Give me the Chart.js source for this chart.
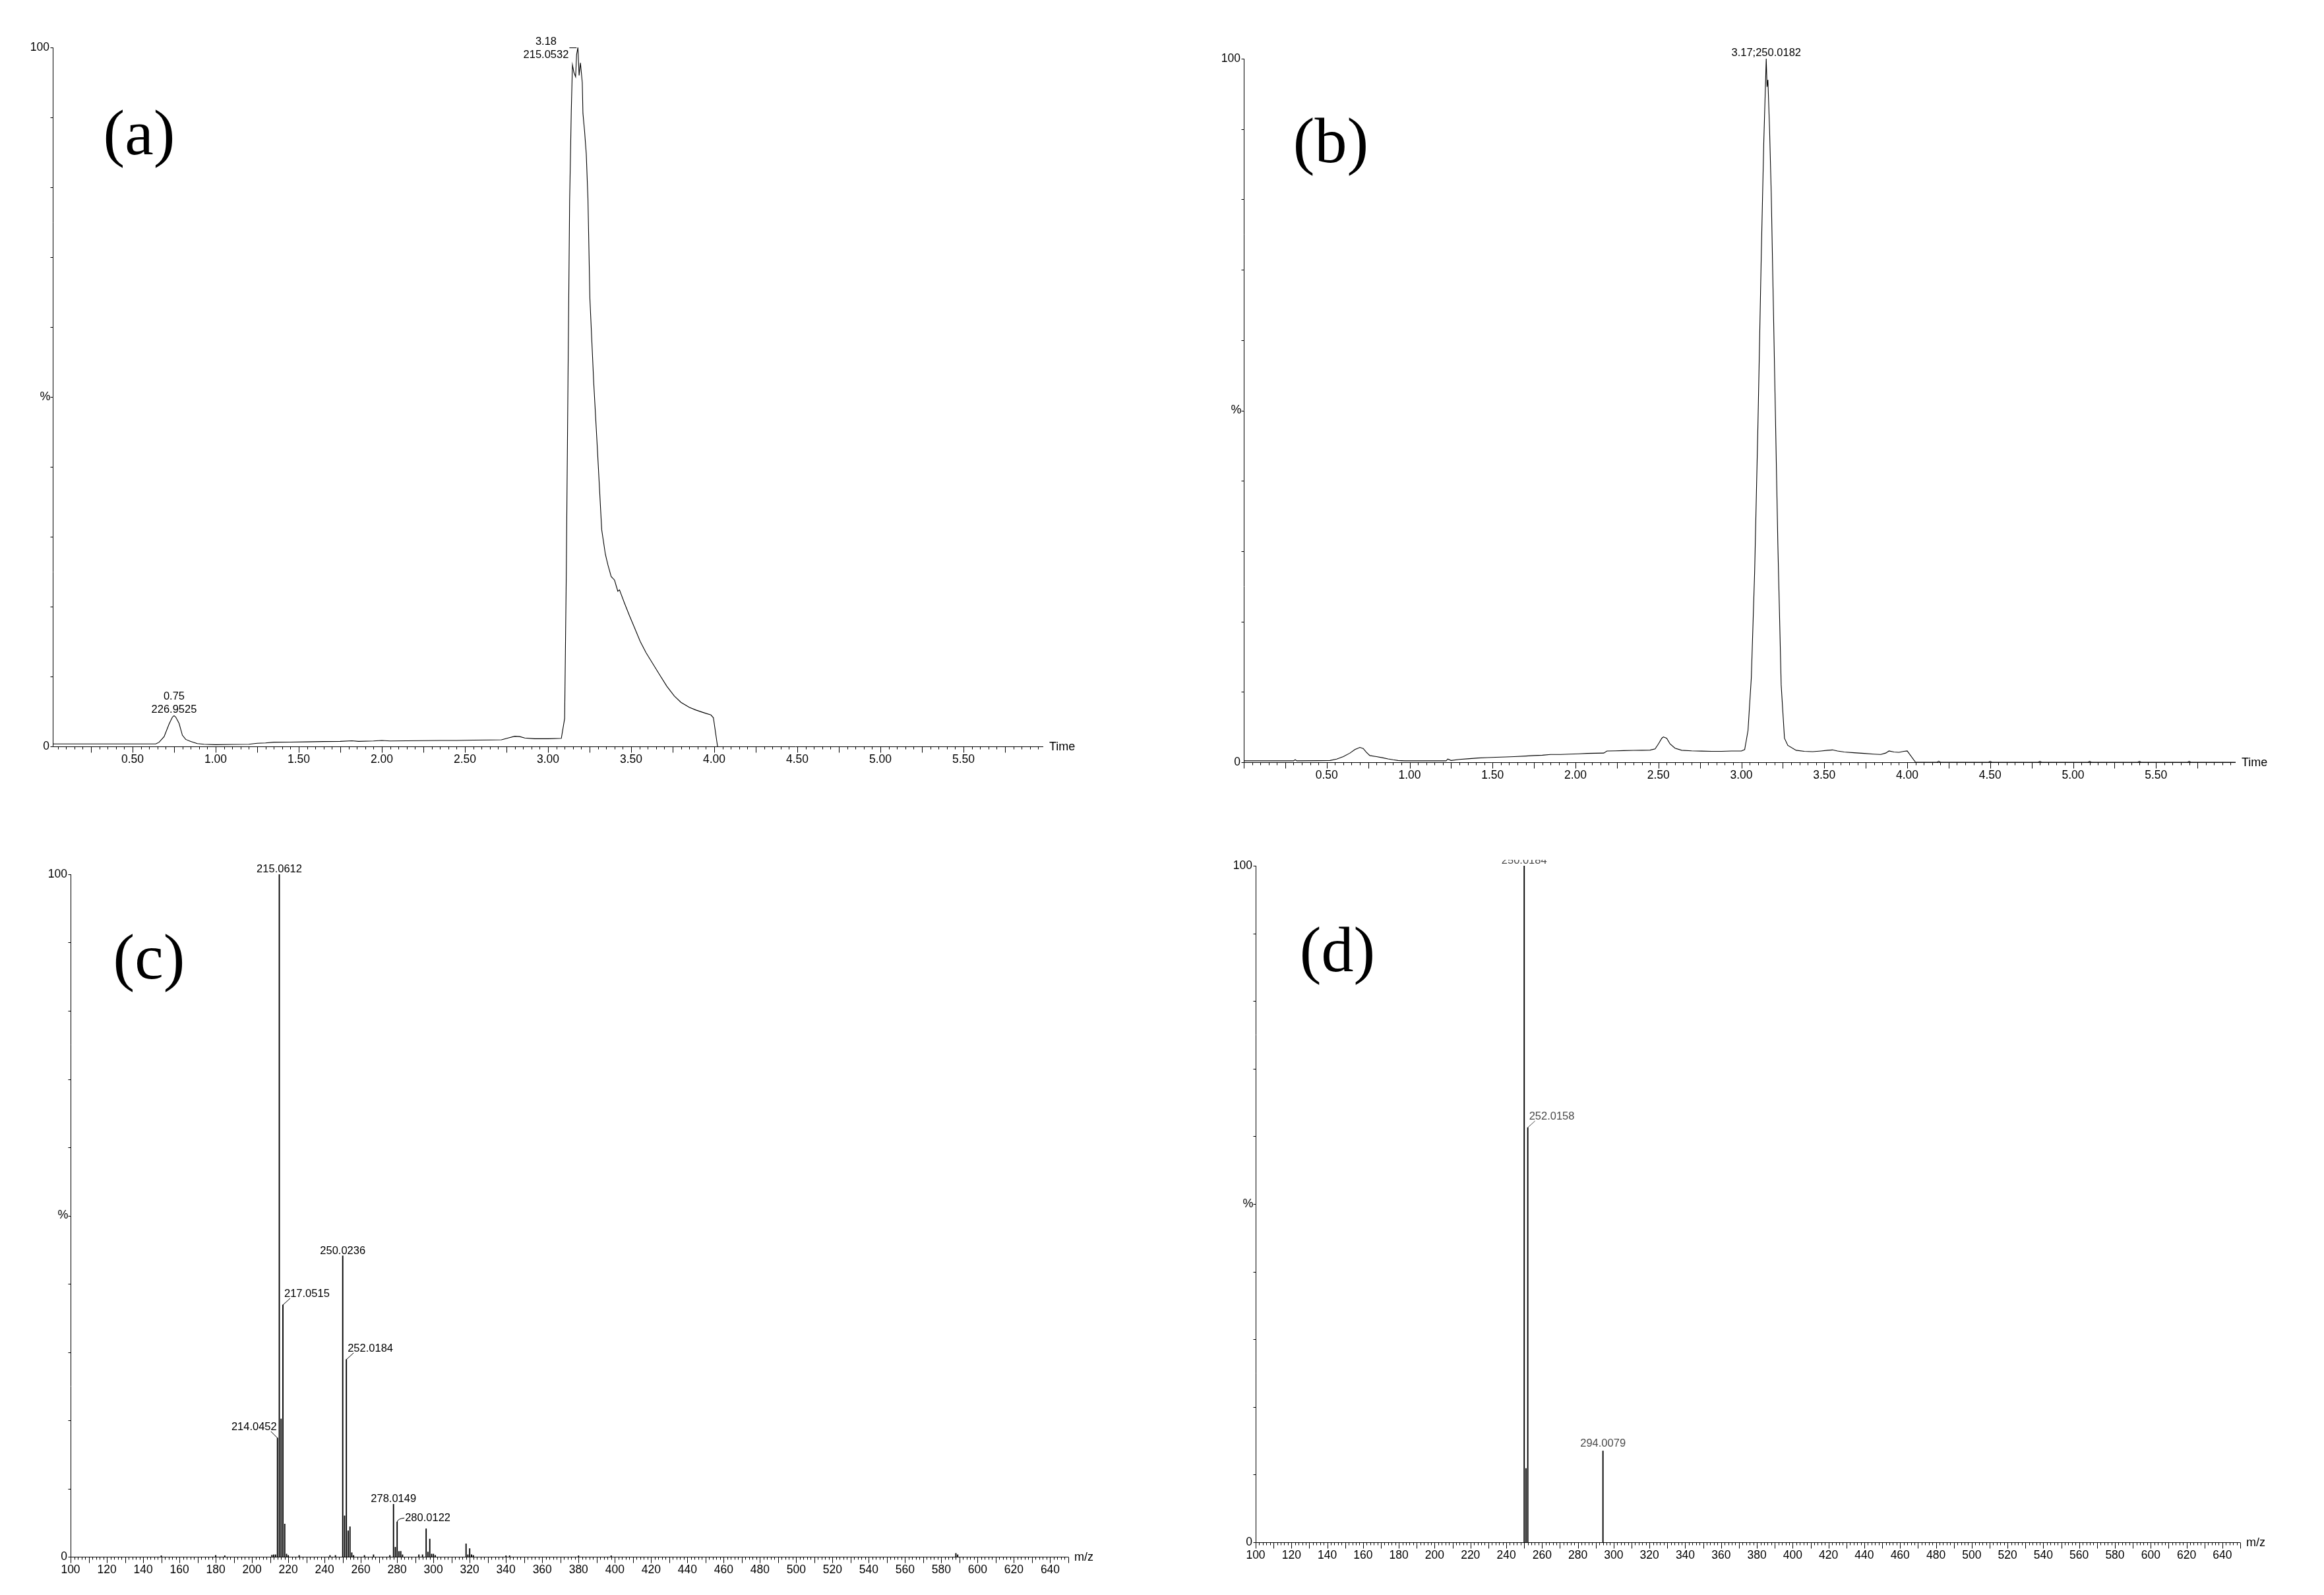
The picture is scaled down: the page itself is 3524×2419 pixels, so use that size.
<!DOCTYPE html>
<html><head><meta charset="utf-8">
<script src="https://cdn.jsdelivr.net/npm/chart.js@4.4.1/dist/chart.umd.min.js"></script>
<style>
html,body{margin:0;padding:0;background:#fff;}
#wrap{position:relative;width:3524px;height:2419px;overflow:hidden;background:#fff;}
canvas{position:absolute;}
</style></head><body>
<div id="wrap">
<canvas id="ca" width="1762" height="1210" style="left:0px;top:0px"></canvas>
<canvas id="cb" width="1762" height="1210" style="left:1762px;top:0px"></canvas>
<canvas id="cc" width="1762" height="1209" style="left:0px;top:1210px"></canvas>
<canvas id="cd" width="1762" height="1209" style="left:1762px;top:1210px"></canvas>
</div>
<script>
// ---------------- DATA ----------------
const timeTickLabels = ['0.50','1.00','1.50','2.00','2.50','3.00','3.50','4.00','4.50','5.00','5.50'];
const mzTickLabels = ['100','120','140','160','180','200','220','240','260','280','300','320','340','360','380','400','420','440','460','480','500','520','540','560','580','600','620','640'];
const yTickLabels = ['0','100'];

// (a) chromatogram
const chromATime = [0.02,0.30,0.64,0.66,0.69,0.72,0.74,0.75,0.76,0.78,
  0.80,0.82,0.85,0.89,0.93,1.00,1.10,1.20,1.25,1.30,
  1.35,1.45,1.55,1.65,1.75,1.82,1.86,1.95,2.00,2.05,
  2.15,2.25,2.35,2.45,2.55,2.65,2.72,2.76,2.80,2.83,
  2.86,2.92,3.00,3.08,3.10,3.11,3.12,3.13,3.14,3.147,
  3.155,3.166,3.172,3.18,3.187,3.195,3.206,3.21,3.22,3.23,
  3.24,3.252,3.275,3.296,3.323,3.345,3.36,3.38,3.40,3.42,
  3.43,3.46,3.49,3.52,3.555,3.59,3.626,3.67,3.715,3.76,
  3.80,3.85,3.89,3.94,3.98,3.995,4.02];
const chromAIntensity = [0.35,0.35,0.35,0.6,1.4,3.2,4.2,4.4,4.2,3.3,
  1.6,1.0,0.7,0.4,0.3,0.25,0.28,0.3,0.45,0.5,
  0.6,0.62,0.65,0.7,0.72,0.8,0.72,0.78,0.85,0.78,
  0.8,0.82,0.85,0.85,0.9,0.92,0.95,1.2,1.45,1.4,
  1.2,1.1,1.1,1.15,4,25,52,78,91,97.5,
  96.5,95.8,99,100,96,97.8,95,90.6,88,84.8,
  78.5,64,52,43,31,27.5,26,24.3,23.8,22.2,
  22.4,20.5,18.7,17,15,13.4,12,10.3,8.6,7.2,
  6.3,5.6,5.2,4.8,4.5,4.1,0];
const annotATime = [0.75, 3.18];
const annotAIntensity = [4.4, 100];
const annotAText = [['0.75','226.9525'], ['3.18','215.0532']];

// (b) chromatogram
const chromBTime = [0.00,0.15,0.30,0.31,0.32,0.45,0.52,0.56,0.60,0.64,
  0.67,0.70,0.72,0.74,0.76,0.80,0.84,0.87,0.90,0.93,
  0.97,1.05,1.15,1.22,1.23,1.25,1.30,1.36,1.41,1.47,
  1.52,1.58,1.63,1.70,1.75,1.80,1.85,1.91,1.96,2.02,
  2.07,2.12,2.17,2.19,2.24,2.29,2.35,2.40,2.45,2.48,
  2.50,2.52,2.53,2.55,2.57,2.60,2.64,2.70,2.76,2.82,
  2.88,2.94,3.00,3.02,3.04,3.06,3.08,3.10,3.12,3.135,
  3.145,3.15,3.155,3.16,3.17,3.18,3.20,3.22,3.24,3.26,
  3.28,3.33,3.38,3.43,3.48,3.52,3.55,3.58,3.62,3.68,
  3.74,3.80,3.84,3.87,3.89,3.92,3.95,3.98,4.00,4.05,
  4.18,4.19,4.20,4.49,4.50,4.51,4.79,4.80,4.81,5.09,
  5.10,5.11,5.39,5.40,5.41,5.69,5.70,5.71,5.98];
const chromBIntensity = [0.2,0.2,0.2,0.35,0.2,0.22,0.25,0.45,0.8,1.3,
  1.8,2.1,1.95,1.4,0.95,0.8,0.62,0.47,0.35,0.25,
  0.2,0.2,0.2,0.2,0.45,0.25,0.4,0.5,0.6,0.65,
  0.7,0.75,0.8,0.88,0.95,1.0,1.1,1.1,1.15,1.2,
  1.25,1.28,1.3,1.6,1.62,1.65,1.68,1.7,1.72,1.9,
  2.6,3.4,3.6,3.4,2.6,2.0,1.7,1.62,1.58,1.55,
  1.55,1.6,1.6,1.8,4.5,12,27,48,72,88,
  96,100,96,97,90,81,56,31,11,3.4,
  2.4,1.7,1.55,1.5,1.6,1.7,1.75,1.6,1.45,1.35,
  1.25,1.15,1.1,1.3,1.6,1.45,1.4,1.55,1.6,0,
  0,0.15,0,0,0.12,0,0,0.12,0,0,
  0.12,0,0,0.12,0,0,0.12,0,0];
const annotBTime = [3.15];
const annotBIntensity = [100];
const annotBText = [['3.17;250.0182']];

// (c) mass spectrum
const specCMz = [150,180,185,211,212,213,214.0452,215.0612,216.05,217.0515,218.05,219.05,220,
  226,243,246,250.0236,251.03,252.0184,253.02,254.02,255.02,256,262,267,276,
  278.0149,279.02,280.0122,281.01,282.01,283,292,294,296,297,298,299,300,301,
  318,319,320,321,322,340,342,380,398,588,589];
const specCIntensity = [0.15,0.2,0.15,0.25,0.3,0.3,17.4,100,20.2,36.9,4.8,0.4,0.2,
  0.2,0.2,0.2,44.1,6.0,28.9,3.8,4.4,0.6,0.2,0.2,0.3,0.2,
  7.7,1.4,5.1,0.8,0.8,0.3,0.3,0.3,4.1,0.7,2.6,0.4,0.4,0.2,
  1.9,0.3,1.2,0.3,0.2,0.15,0.15,0.15,0.15,0.5,0.3];
const annotCMz = [215.0612, 217.0515, 214.0452, 250.0236, 252.0184, 278.0149, 280.0122];
const annotCIntensity = [100, 36.9, 17.4, 44.1, 28.9, 7.7, 5.1];
const annotCText = [['215.0612'],['217.0515'],['214.0452'],['250.0236'],['252.0184'],['278.0149'],['280.0122']];

// (d) mass spectrum
const specDMz = [250.0184, 251.02, 252.0158, 294.0079];
const specDIntensity = [100, 10.9, 61.3, 13.5];
const annotDMz = [250.0184, 252.0158, 294.0079];
const annotDIntensity = [100, 61.3, 13.5];
const annotDText = [['250.0184'],['252.0158'],['294.0079']];

// ---------------- RENDER ----------------
Chart.defaults.font.family = "'Liberation Sans', Arial, sans-serif";
Chart.defaults.color = '#000';

function zip(xs, ys){ return xs.map((x,i)=>({x:x, y:ys[i]})); }

const decorPlugin = {
  id: 'decor',
  afterDraw(chart, args, o) {
    const ctx = chart.ctx, xs = chart.scales.x, ys = chart.scales.y, ca = chart.chartArea;
    ctx.save();
    ctx.strokeStyle = '#000'; ctx.lineWidth = 1;
    const bx = Math.round(ca.left) + 0.5, by = Math.round(ca.bottom) + 0.5;
    ctx.beginPath();
    ctx.moveTo(bx, Math.round(ca.top)); ctx.lineTo(bx, by); ctx.lineTo(Math.round(ca.right), by);
    const nMin = Math.ceil(xs.min / o.xMinor - 1e-6), nMax = Math.floor(xs.max / o.xMinor + 1e-6);
    for (let n = nMin; n <= nMax; n++) {
      const v = n * o.xMinor;
      const px = Math.round(xs.getPixelForValue(v)) + 0.5;
      const r = v / o.xMajor;
      const major = Math.abs(r - Math.round(r)) < 1e-6;
      ctx.moveTo(px, by); ctx.lineTo(px, by + (major ? o.majorLen : o.minorLen));
    }
    for (let v = 0; v <= 100; v += o.yStep) {
      const py = Math.round(ys.getPixelForValue(v)) + 0.5;
      ctx.moveTo(bx - o.yTickLen, py); ctx.lineTo(bx, py);
    }
    ctx.stroke();

    // axis titles
    ctx.fillStyle = '#000';
    ctx.font = "18px 'Liberation Sans', Arial, sans-serif";
    ctx.textAlign = 'left'; ctx.textBaseline = 'middle';
    ctx.fillText(o.xTitle, ca.right + o.xTitleGap, by + 1);
    ctx.textAlign = 'center';
    ctx.fillText('%', bx - 12, (ca.top + ca.bottom) / 2);

    // panel label
    ctx.font = o.panelFont;
    ctx.textAlign = 'center'; ctx.textBaseline = 'middle';
    ctx.fillText(o.panelLabel, o.panelX, o.panelY);

    // peak annotations
    ctx.font = o.annotFont;
    ctx.fillStyle = o.annotColor; ctx.strokeStyle = o.annotColor;
    const A = o.annot;
    A.xs.forEach((xv, i) => {
      const px = xs.getPixelForValue(xv), py = ys.getPixelForValue(A.ys[i]);
      const lines = A.texts[i], style = A.styles[i];
      ctx.textBaseline = 'alphabetic';
      if (style === 'above') {
        ctx.textAlign = 'center';
        lines.forEach((t, k) => ctx.fillText(t, px, py - A.gap - (lines.length - 1 - k) * 20));
      } else if (style === 'clippedAbove') {
        ctx.save();
        ctx.beginPath(); ctx.rect(0, ca.top - 9, chart.width, chart.height); ctx.clip();
        ctx.textAlign = 'center';
        ctx.fillText(lines[0], px, py - 3);
        ctx.restore();
      } else if (style === 'bracketLeft') {
        const w = Math.max(...lines.map(t => ctx.measureText(t).width));
        const cx = px - 14 - w / 2;
        ctx.textAlign = 'center'; ctx.textBaseline = 'middle';
        ctx.fillText(lines[0], cx, py - 9);
        ctx.fillText(lines[1], cx, py + 11);
        ctx.beginPath(); ctx.moveTo(px - 13, Math.round(py) + 0.5); ctx.lineTo(px - 2, Math.round(py) + 0.5); ctx.stroke();
      } else if (style === 'leaderRight') {
        ctx.beginPath(); ctx.moveTo(px, py); ctx.lineTo(px + 11, py - 10); ctx.stroke();
        ctx.textAlign = 'left';
        ctx.fillText(lines[0], px + 2, py - 12);
      } else if (style === 'leaderLeft') {
        ctx.beginPath(); ctx.moveTo(px, py); ctx.lineTo(px - 10, py - 10); ctx.stroke();
        ctx.textAlign = 'right';
        ctx.fillText(lines[0], px - 1, py - 12);
      } else if (style === 'sideRight') {
        ctx.beginPath(); ctx.moveTo(px, py); ctx.quadraticCurveTo(px + 1, py - 5, px + 11, py - 6); ctx.stroke();
        ctx.textAlign = 'left';
        ctx.fillText(lines[0], px + 12, py - 1);
      }
    });
    ctx.restore();
  }
};

function makeChart(id, cfg) {
  const isTime = cfg.kind === 'time';
  const tickLabels = isTime ? timeTickLabels : mzTickLabels;
  const dataset = isTime ? {
      type: 'line', data: zip(cfg.xs, cfg.ys), borderColor: '#000', borderWidth: 1.1,
      pointRadius: 0, tension: 0, fill: false
    } : {
      type: 'bar', data: zip(cfg.xs, cfg.ys), backgroundColor: cfg.barColor || '#000',
      borderWidth: 0, barThickness: 1.2, grouped: false
    };
  return new Chart(document.getElementById(id), {
    type: isTime ? 'line' : 'bar',
    data: { datasets: [dataset] },
    options: {
      responsive: false, animation: false, devicePixelRatio: 1,
      layout: { padding: cfg.padding },
      plugins: {
        legend: { display: false }, tooltip: { enabled: false },
        decor: {
          xMinor: isTime ? 0.05 : 2, xMajor: isTime ? 0.25 : 10,
          majorLen: 9, minorLen: 4, yStep: 10, yTickLen: 4,
          xTitle: isTime ? 'Time' : 'm/z', xTitleGap: 9,
          panelLabel: cfg.panel, panelX: cfg.panelX, panelY: cfg.panelY,
          panelFont: "98px 'Liberation Serif', 'Times New Roman', serif",
          annotFont: "16.5px 'Liberation Sans', Arial, sans-serif",
          annotColor: cfg.annotColor || '#000',
          annot: cfg.annot
        }
      },
      scales: {
        x: {
          type: 'linear', min: cfg.xmin, max: cfg.xmax, offset: false,
          grid: { display: false, drawTicks: false }, border: { display: false },
          afterBuildTicks: (s) => { s.ticks = tickLabels.map(l => ({ value: Number(l) })); },
          afterFit: (s) => { s.height = 50; },
          ticks: { autoSkip: false, maxRotation: 0, minRotation: 0, padding: 10,
            font: { size: 17.5 }, color: '#000',
            callback: (v, i) => tickLabels[i] }
        },
        y: {
          type: 'linear', min: 0, max: 100,
          grid: { display: false, drawTicks: false }, border: { display: false },
          afterBuildTicks: (s) => { s.ticks = yTickLabels.map(l => ({ value: Number(l) })); },
          afterFit: (s) => { s.width = 70; },
          ticks: { autoSkip: false, padding: 5, font: { size: 17.5 }, color: '#000',
            callback: (v, i) => yTickLabels[i] }
        }
      }
    },
    plugins: [decorPlugin]
  });
}

makeChart('ca', {
  kind: 'time', xs: chromATime, ys: chromAIntensity, xmin: 0.02, xmax: 5.98,
  padding: { left: 10, top: 72, right: 180, bottom: 28 },
  panel: '(a)', panelX: 211, panelY: 208,
  annot: { xs: annotATime, ys: annotAIntensity, texts: annotAText, styles: ['above', 'bracketLeft'], gap: 4 }
});
makeChart('cb', {
  kind: 'time', xs: chromBTime, ys: chromBIntensity, xmin: 0.0, xmax: 5.98,
  padding: { left: 54, top: 89, right: 134, bottom: 4 },
  panel: '(b)', panelX: 256, panelY: 220,
  annot: { xs: annotBTime, ys: annotBIntensity, texts: annotBText, styles: ['above'], gap: 4 }
});
makeChart('cc', {
  kind: 'mz', xs: specCMz, ys: specCIntensity, xmin: 100, xmax: 650,
  padding: { left: 37, top: 116, right: 142, bottom: 8 },
  panel: '(c)', panelX: 226, panelY: 248,
  annot: { xs: annotCMz, ys: annotCIntensity, texts: annotCText,
    styles: ['above', 'leaderRight', 'leaderLeft', 'above', 'leaderRight', 'above', 'sideRight'], gap: 3 }
});
makeChart('cd', {
  kind: 'mz', xs: specDMz, ys: specDIntensity, xmin: 100, xmax: 650,
  padding: { left: 72, top: 103, right: 127, bottom: 30 },
  panel: '(d)', panelX: 266, panelY: 237, annotColor: '#4a4a4a',
  annot: { xs: annotDMz, ys: annotDIntensity, texts: annotDText,
    styles: ['clippedAbove', 'leaderRight', 'above'], gap: 6 }
});
</script>
</body></html>
